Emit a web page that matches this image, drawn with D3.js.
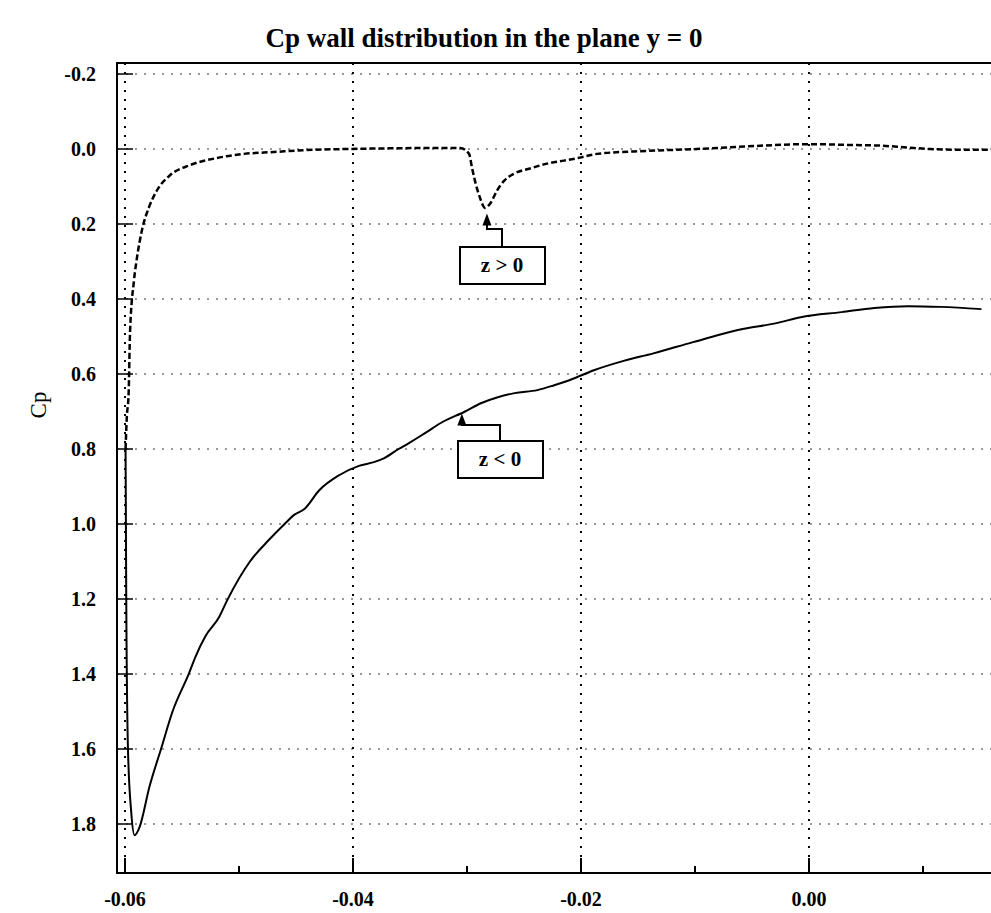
<!DOCTYPE html>
<html>
<head>
<meta charset="utf-8">
<script src="https://cdn.jsdelivr.net/npm/d3@7/dist/d3.min.js"></script>
<style>
  body { margin: 0; background: #fff; }
  text { font-family: "Liberation Serif", "Times New Roman", serif; fill: #000; }
</style>
</head>
<body>
<svg id="chart" width="991" height="913"></svg>
<script>
// axis ticks
const xMajor = [-0.06, -0.04, -0.02, 0.00];
const xMinor = [-0.05, -0.03, -0.01, 0.01];
const yTicks = [-0.2, 0.0, 0.2, 0.4, 0.6, 0.8, 1.0, 1.2, 1.4, 1.6, 1.8];

// z > 0 side (dashed)
const upperX = [-0.05995, -0.05985, -0.05968, -0.05956, -0.05921, -0.05895, -0.05851, -0.05789,
  -0.05719, -0.05605, -0.05430, -0.05193, -0.04956, -0.04693, -0.04430, -0.04053, -0.03614,
  -0.03263, -0.03061, -0.02982, -0.02956, -0.02930, -0.02886, -0.02842, -0.02798, -0.02737,
  -0.02675, -0.02588, -0.02447, -0.02298, -0.02149, -0.02009, -0.01860, -0.01421, -0.00982,
  -0.00544, 0.00000, 0.00333, 0.00623, 0.00860, 0.01061, 0.01360, 0.01570];
const upperCp = [0.80, 0.72, 0.65, 0.49, 0.35, 0.29, 0.216, 0.155,
  0.11, 0.07, 0.043, 0.024, 0.013, 0.008, 0.003, 0.0, -0.002,
  -0.003, -0.003, 0.013, 0.05, 0.085, 0.13, 0.157, 0.146, 0.111,
  0.085, 0.066, 0.052, 0.039, 0.031, 0.023, 0.013, 0.005, 0.0,
  -0.007, -0.013, -0.011, -0.009, -0.004, 0.0, 0.002, 0.002];

// z < 0 side (solid)
const lowerX = [-0.05995, -0.05989, -0.05974, -0.05945, -0.05916, -0.05872, -0.05785, -0.05684,
  -0.05583, -0.05437, -0.05383, -0.05296, -0.05174, -0.05103, -0.04904, -0.04730, -0.04600,
  -0.04513, -0.04426, -0.04296, -0.04122, -0.03948, -0.03817, -0.03730, -0.03600, -0.03513,
  -0.03365, -0.03226, -0.03017, -0.02878, -0.02730, -0.02583, -0.02383, -0.02235, -0.02096,
  -0.01887, -0.01626, -0.01365, -0.01017, -0.00583, -0.00296, -0.00061, 0.00287, 0.00574,
  0.00870, 0.01157, 0.01513];
const lowerCp = [0.80, 1.20, 1.60, 1.77, 1.83, 1.808, 1.70, 1.60,
  1.50, 1.397, 1.355, 1.30, 1.248, 1.203, 1.10, 1.04, 1.00,
  0.975, 0.96, 0.91, 0.87, 0.845, 0.835, 0.825, 0.80, 0.785,
  0.757, 0.73, 0.70, 0.678, 0.662, 0.651, 0.643, 0.63, 0.616,
  0.59, 0.565, 0.545, 0.515, 0.48, 0.465, 0.448, 0.435, 0.424,
  0.419, 0.421, 0.427];

const svg = d3.select("#chart");

const x = d3.scaleLinear().domain([-0.06, 0.0]).range([125, 809]);
const y = d3.scaleLinear().domain([0, 1.8]).range([149, 824]);

const pLeft = 117, pRight = 1000, pTop = 63, pBottom = 873;
const fmt = p => d => d3.format(p)(d).replace("\u2212", "-");

svg.append("defs").append("clipPath").attr("id", "plot")
  .append("rect").attr("x", pLeft).attr("y", pTop)
  .attr("width", pRight - pLeft).attr("height", pBottom - pTop);

// title
svg.append("text")
  .attr("x", 484).attr("y", 47)
  .attr("text-anchor", "middle")
  .attr("font-size", 27).attr("font-weight", "bold")
  .text("Cp wall distribution in the plane y = 0");

// grid
const grid = svg.append("g").attr("clip-path", "url(#plot)");
grid.selectAll(".hg").data(yTicks).join("line")
  .attr("x1", pLeft).attr("x2", pRight)
  .attr("y1", d => y(d)).attr("y2", d => y(d))
  .attr("stroke", "#333").attr("stroke-width", 1)
  .attr("stroke-dasharray", "2,7");
grid.selectAll(".vg").data(xMajor).join("line")
  .attr("x1", d => x(d)).attr("x2", d => x(d))
  .attr("y1", pTop).attr("y2", pBottom)
  .attr("stroke", "#000").attr("stroke-width", 2)
  .attr("stroke-dasharray", "2,7");

// frame
svg.append("path")
  .attr("d", `M${pRight},${pTop}H${pLeft}V${pBottom}H${pRight}`)
  .attr("fill", "none").attr("stroke", "#000").attr("stroke-width", 2);

// ticks
svg.selectAll(".xt").data(xMajor).join("line")
  .attr("x1", d => x(d)).attr("x2", d => x(d))
  .attr("y1", pBottom).attr("y2", pBottom - 15)
  .attr("stroke", "#000").attr("stroke-width", 2);
svg.selectAll(".xm").data(xMinor).join("line")
  .attr("x1", d => x(d)).attr("x2", d => x(d))
  .attr("y1", pBottom).attr("y2", pBottom - 7)
  .attr("stroke", "#000").attr("stroke-width", 2);
svg.selectAll(".yt").data(yTicks).join("line")
  .attr("x1", pLeft).attr("x2", pLeft + 16)
  .attr("y1", d => y(d)).attr("y2", d => y(d))
  .attr("stroke", "#000").attr("stroke-width", 1.5);

// tick labels
svg.selectAll(".xl").data(xMajor).join("text")
  .attr("x", d => x(d)).attr("y", 906)
  .attr("text-anchor", "middle")
  .attr("font-size", 20).attr("font-weight", "bold")
  .text(fmt(".2f"));
svg.selectAll(".yl").data(yTicks).join("text")
  .attr("x", 96).attr("y", d => y(d))
  .attr("dy", "0.35em")
  .attr("text-anchor", "end")
  .attr("font-size", 20).attr("font-weight", "bold")
  .text(fmt(".1f"));

svg.append("text")
  .attr("transform", "translate(46,405) rotate(-90)")
  .attr("text-anchor", "middle")
  .attr("font-size", 23)
  .text("Cp");

// curves
const line = d3.line().x(d => x(d[0])).y(d => y(d[1])).curve(d3.curveMonotoneX);
const curves = svg.append("g").attr("clip-path", "url(#plot)");
curves.append("path")
  .attr("d", line(d3.zip(lowerX, lowerCp)))
  .attr("fill", "none").attr("stroke", "#000").attr("stroke-width", 2);
curves.append("path")
  .attr("d", line(d3.zip(upperX, upperCp)))
  .attr("fill", "none").attr("stroke", "#000").attr("stroke-width", 2.5)
  .attr("stroke-dasharray", "6,3");

// annotations
function label(txt, bx, by, corner, tipX, tipCp) {
  const tx = x(tipX), ty = y(tipCp);
  const g = svg.append("g");
  g.append("path")
    .attr("d", `M${bx + 42},${by}V${corner}H${tx}V${ty + 9}`)
    .attr("fill", "none").attr("stroke", "#000").attr("stroke-width", 2);
  g.append("path")
    .attr("d", `M${tx},${ty}L${tx - 4.5},${ty + 12}L${tx + 4.5},${ty + 12}Z`)
    .attr("fill", "#000");
  g.append("rect")
    .attr("x", bx).attr("y", by).attr("width", 85).attr("height", 37)
    .attr("fill", "#fff").attr("stroke", "#000").attr("stroke-width", 2);
  g.append("text")
    .attr("x", bx + 42).attr("y", by + 25)
    .attr("text-anchor", "middle")
    .attr("font-size", 21).attr("font-weight", "bold")
    .text(txt);
}
label("z > 0", 460, 247, 229, -0.02825, 0.172);
label("z < 0", 458, 441, 425, -0.03045, 0.705);
</script>
</body>
</html>
